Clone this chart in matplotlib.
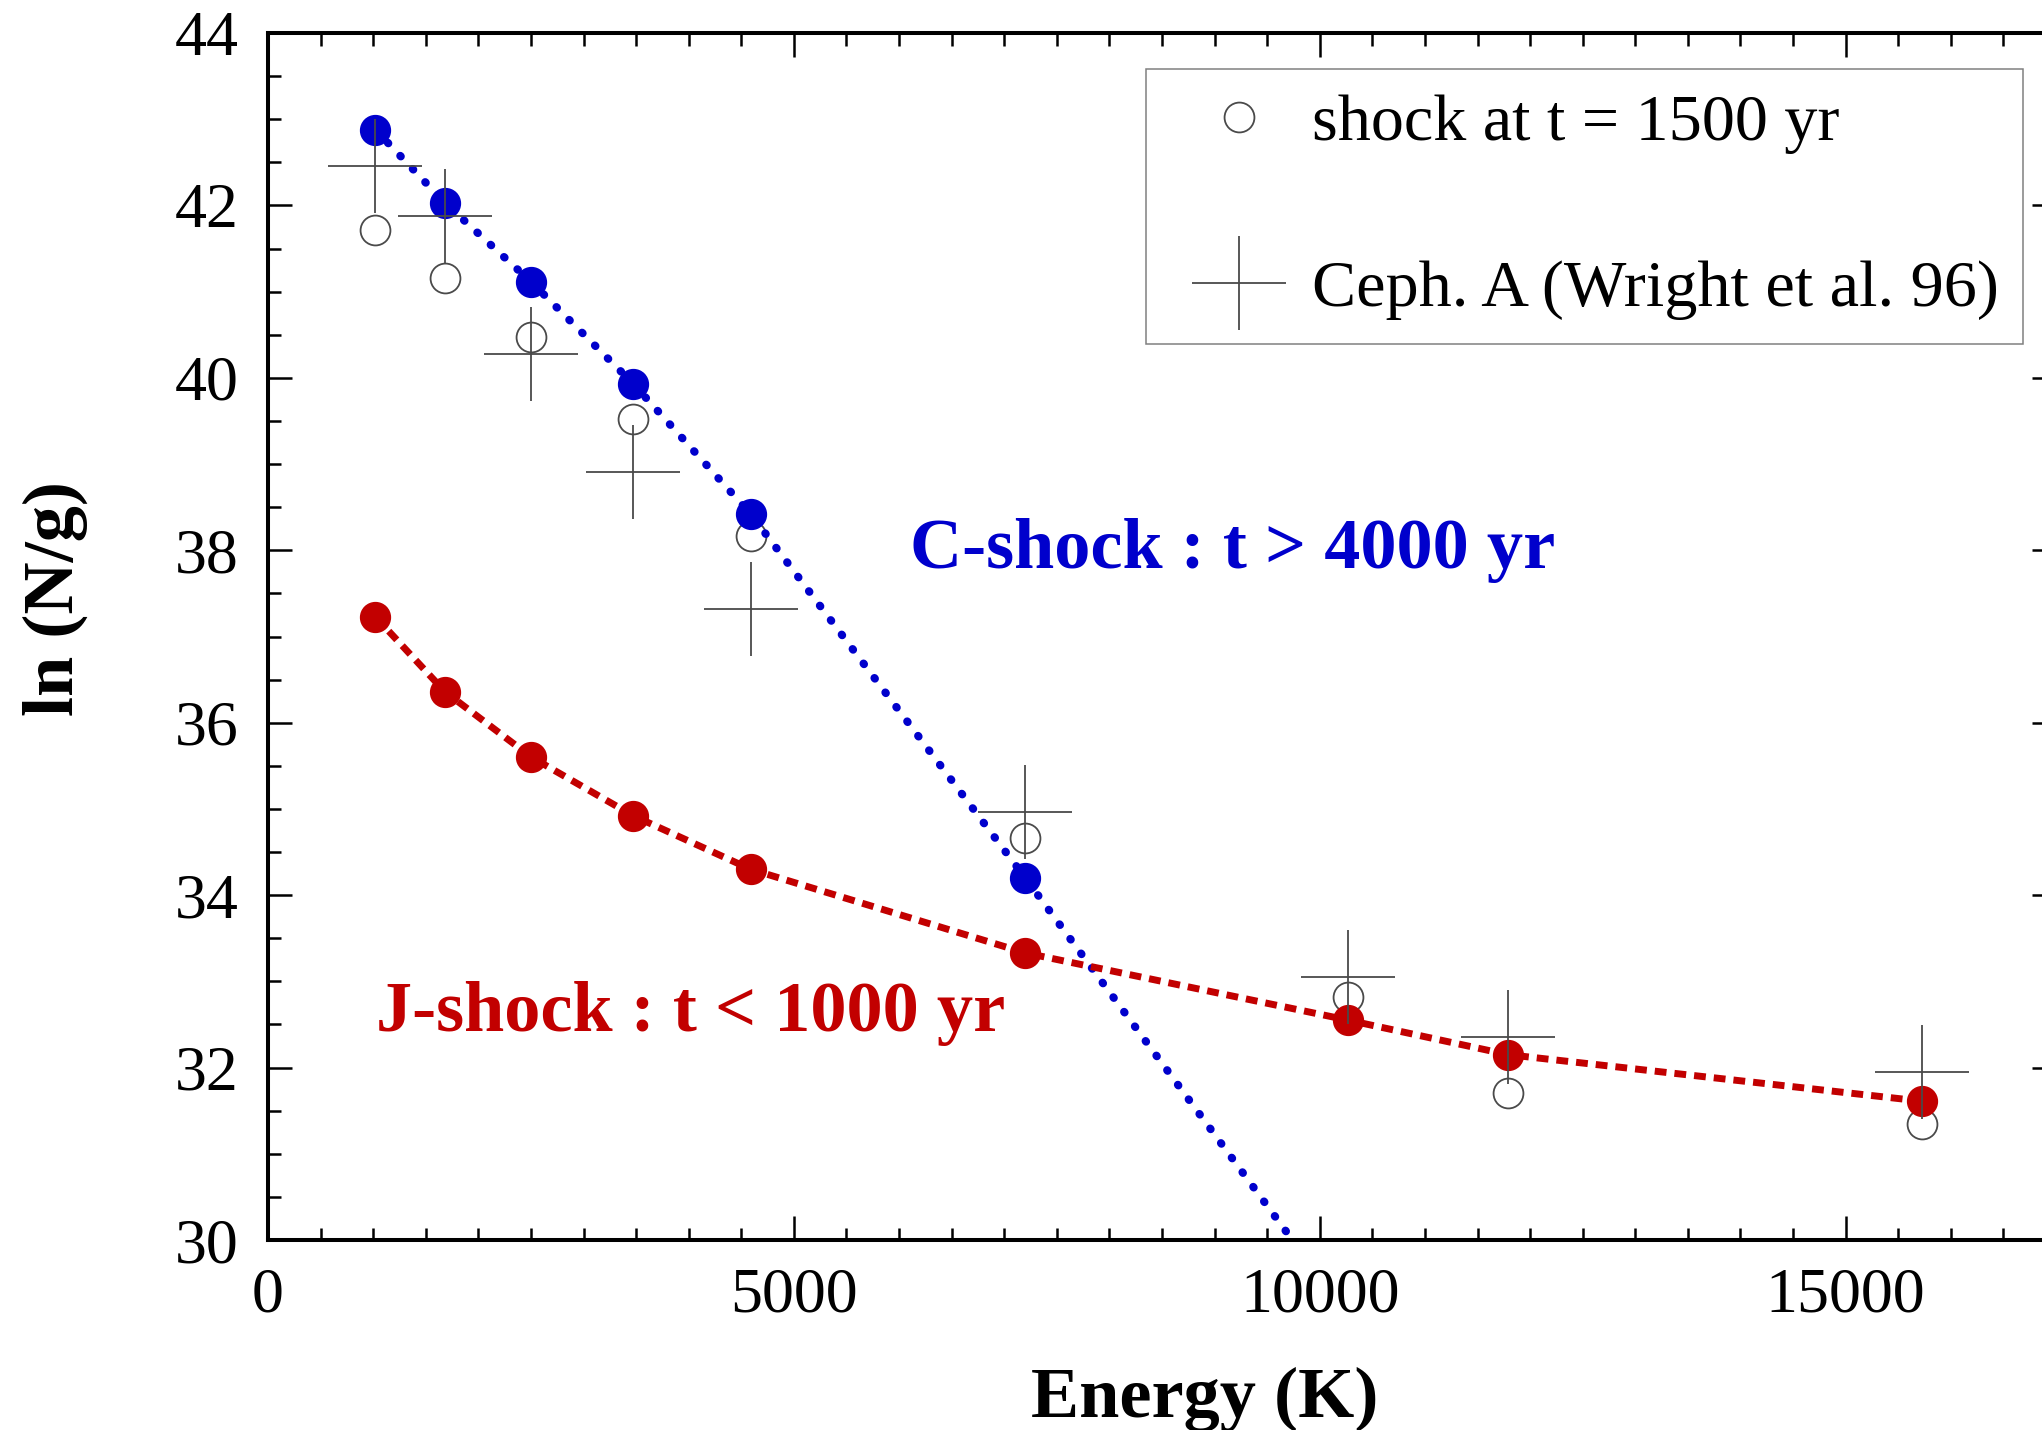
import matplotlib
matplotlib.use("Agg")
import matplotlib.pyplot as plt
from matplotlib.ticker import MultipleLocator

plt.rcParams['font.family'] = ['Liberation Serif', 'DejaVu Serif']

# ---------------- data ----------------
energy = [1020, 1682, 2505, 3474, 4590, 7200, 10270, 11790, 15725]          # K
c_shock = [42.88, 42.03, 41.11, 39.93, 38.42, 34.20]                        # first 6 levels
c_fit_x = [1020, 1682, 2505, 3474, 4590, 7200, 9740]                        # dotted C-shock curve
c_fit_y = [42.88, 42.03, 41.11, 39.93, 38.42, 34.20, 30.00]
j_shock = [37.23, 36.36, 35.60, 34.92, 34.30, 33.33, 32.55, 32.15, 31.61]
shock_1500 = [41.71, 41.16, 40.47, 39.52, 38.17, 34.66, 32.82, 31.71, 31.34]
ceph_a = [42.46, 41.88, 40.28, 38.91, 37.32, 34.97, 33.05, 32.36, 31.95]

blue = '#0000CC'
red = '#C20000'

W, H = 2042, 1430
fig = plt.figure(figsize=(W / 100, H / 100), dpi=100)
ax = fig.add_axes([268 / W, 190 / H, 1788 / W, 1207 / H])

# open circles (model at 1500 yr)
h_open, = ax.plot(energy, shock_1500, ls='none', marker='o', ms=21.5, mfc='none',
                  mec='#4a4a4a', mew=1.3, zorder=2, label='shock at t = 1500 yr')

# C-shock (blue dotted line + filled dots)
ax.plot(c_fit_x, c_fit_y, color=blue, lw=5.8, ls=(0, (0.1, 2.15)),
        dash_capstyle='round', zorder=3)
ax.plot(energy[:len(c_shock)], c_shock, ls='none', marker='o', ms=21.5,
        color=blue, mec=blue, zorder=4)

# J-shock (red dashed line + filled dots)
ax.plot(energy, j_shock, color=red, lw=5.0, ls=(0, (1.7, 1.15)),
        dash_capstyle='butt', zorder=3)
ax.plot(energy, j_shock, ls='none', marker='o', ms=21.5, color=red, mec=red, zorder=4)

# Ceph A observations
h_cross, = ax.plot(energy, ceph_a, ls='none', marker='+', ms=67, mew=1.3,
                   color='#4a4a4a', zorder=5, label='Ceph. A (Wright et al. 96)')

ax.set_xlim(0, 17000)
ax.set_ylim(30, 44)
ax.xaxis.set_major_locator(MultipleLocator(5000))
ax.xaxis.set_minor_locator(MultipleLocator(500))
ax.yaxis.set_major_locator(MultipleLocator(2))
ax.yaxis.set_minor_locator(MultipleLocator(0.5))
ax.tick_params(which='both', direction='in', top=True, right=True,
               labelsize=46, width=1.8, colors='black')
ax.tick_params(which='major', length=17.3)
ax.tick_params(which='minor', length=9)
ax.tick_params(axis='x', pad=20)
ax.tick_params(axis='y', pad=21)
for s in ax.spines.values():
    s.set_linewidth(2.9)

# annotations
ax.text(6100, 37.79, 'C-shock : t > 4000 yr', color=blue, fontsize=52,
        fontweight='bold', ha='left', va='baseline')
ax.text(1030, 32.42, 'J-shock : t < 1000 yr', color=red, fontsize=52,
        fontweight='bold', ha='left', va='baseline')

# axis labels
fig.text(1205 / W, 13 / H, 'Energy (K)', ha='center', va='baseline',
         fontsize=52, fontweight='bold')
fig.text(73 / W, (H - 599) / H, 'ln (N/g)', rotation=90, rotation_mode='anchor',
         ha='center', va='baseline', fontsize=52, fontweight='bold')

leg = ax.legend(handles=[h_open, h_cross], loc='upper left',
                bbox_to_anchor=(1146 / W, (H - 69) / H), bbox_transform=fig.transFigure,
                borderaxespad=0, fontsize=47.6, frameon=True, fancybox=False,
                edgecolor='#808080', framealpha=1, borderpad=0.37,
                labelspacing=1.6, handlelength=2.06, handletextpad=0.08,
                numpoints=1)
leg.get_frame().set_linewidth(1.1)

fig.savefig('out.png', dpi=100)
